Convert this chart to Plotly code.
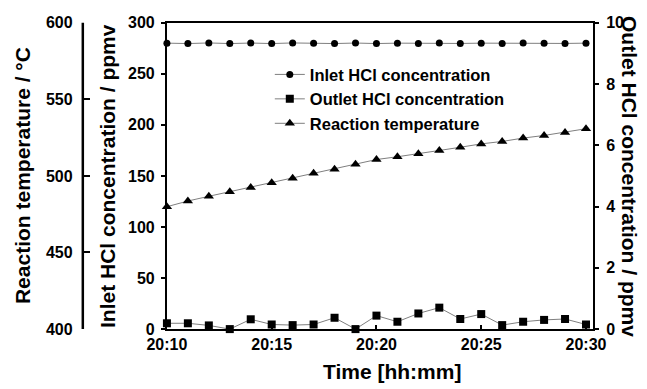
import plotly.graph_objects as go

times = ["20:10", "20:11", "20:12", "20:13", "20:14", "20:15", "20:16", "20:17",
         "20:18", "20:19", "20:20", "20:21", "20:22", "20:23", "20:24", "20:25",
         "20:26", "20:27", "20:28", "20:29", "20:30"]
inlet_hcl = [280.0, 279.6, 280.2, 279.6, 280.1, 279.6, 280.2, 279.9, 279.6, 280.1, 279.6,
             280.0, 279.7, 280.1, 279.7, 280.0, 279.7, 280.1, 279.8, 279.7, 280.0]
outlet_hcl = [0.19, 0.19, 0.12, 0.0, 0.32, 0.15, 0.13, 0.15, 0.37, 0.0, 0.44,
              0.24, 0.51, 0.70, 0.33, 0.49, 0.13, 0.24, 0.30, 0.33, 0.15]
temperature = [479.9, 483.6, 486.7, 489.7, 492.5, 495.5, 498.4, 501.7, 504.3, 507.6, 510.7,
               512.5, 514.4, 516.6, 518.7, 520.9, 522.5, 524.7, 526.4, 528.4, 530.8]

x = ["2000-01-01 " + t for t in times]

FONT = "Liberation Sans, Arial, sans-serif"
LINE = "#7f7f7f"

fig = go.Figure()
fig.add_trace(go.Scatter(x=x, y=inlet_hcl, name="Inlet HCl concentration",
                         mode="lines+markers", yaxis="y",
                         line=dict(color=LINE, width=1),
                         marker=dict(symbol="circle", size=7, color="black"),
                         cliponaxis=False))
fig.add_trace(go.Scatter(x=x, y=outlet_hcl, name="Outlet HCl concentration",
                         mode="lines+markers", yaxis="y2",
                         line=dict(color=LINE, width=1),
                         marker=dict(symbol="square", size=8, color="black"),
                         cliponaxis=False))
fig.add_trace(go.Scatter(x=x, y=temperature, name="Reaction temperature",
                         mode="lines+markers", yaxis="y3",
                         line=dict(color=LINE, width=1),
                         marker=dict(symbol="triangle-up", size=9, color="black"),
                         cliponaxis=False))

tickfont = dict(family=FONT, size=16, color="black", weight="bold")
axcommon = dict(showgrid=False, zeroline=False, showline=True, linecolor="black",
                linewidth=2, tickfont=tickfont, tickcolor="black", tickwidth=1.5,
                ticklen=4)

OUTER_POS = 0.128
Y_DOMAIN = [0.154, 0.9416]

fig.update_layout(
    width=647, height=389,
    margin=dict(l=0, r=0, t=0, b=0, autoexpand=False),
    paper_bgcolor="white", plot_bgcolor="white",
    font=dict(family=FONT, color="black"),
    showlegend=True,
    legend=dict(x=0.417, y=0.853, xanchor="left", yanchor="top",
                bgcolor="rgba(0,0,0,0)",
                font=dict(family=FONT, size=16.5, weight="bold"),
                tracegroupgap=0, itemsizing="trace"),
    xaxis=dict(domain=[0.258, 0.9165], type="date",
               range=["2000-01-01 20:10:00", "2000-01-01 20:30:20"],
               tickformat="%H:%M", dtick=300000, tick0="2000-01-01 20:10:00",
               ticks="inside", mirror=True, **axcommon),
    yaxis=dict(domain=Y_DOMAIN, range=[0, 300], dtick=50,
               ticks="outside", anchor="x", ticklabelstandoff=3, **axcommon),
    yaxis2=dict(range=[0, 10], dtick=2, overlaying="y", side="right",
                anchor="x", ticks="outside", ticklabelstandoff=4, **axcommon),
    yaxis3=dict(range=[400, 600], dtick=50, overlaying="y", side="left",
                anchor="free", position=OUTER_POS, ticks="inside", ticklen=6,
                ticklabelstandoff=6,
                showgrid=False, zeroline=False, showline=True, linecolor="black",
                linewidth=2, tickfont=tickfont, tickcolor="black", tickwidth=2),
)

# axis line of the free (outer) temperature axis
fig.add_shape(type="line", xref="paper", yref="paper", layer="above",
              x0=OUTER_POS, x1=OUTER_POS, y0=Y_DOMAIN[0], y1=Y_DOMAIN[1],
              line=dict(color="black", width=2.5))

tfont = dict(family=FONT, size=21, color="black", weight="bold")
fig.add_annotation(text="Reaction temperature / °C", x=0.034, y=0.55,
                   xref="paper", yref="paper", showarrow=False, textangle=-90,
                   font=tfont, xanchor="center", yanchor="middle")
fig.add_annotation(text="Inlet HCl concentration / ppmv", x=0.165, y=0.547,
                   xref="paper", yref="paper", showarrow=False, textangle=-90,
                   font=tfont, xanchor="center", yanchor="middle")
fig.add_annotation(text="Outlet HCl concentration / ppmv", x=0.974, y=0.547,
                   xref="paper", yref="paper", showarrow=False, textangle=90,
                   font=tfont, xanchor="center", yanchor="middle")
fig.add_annotation(text="Time [hh:mm]", x=0.606, y=0.044,
                   xref="paper", yref="paper", showarrow=False,
                   font=tfont, xanchor="center", yanchor="middle")

fig.write_html("out.html")
